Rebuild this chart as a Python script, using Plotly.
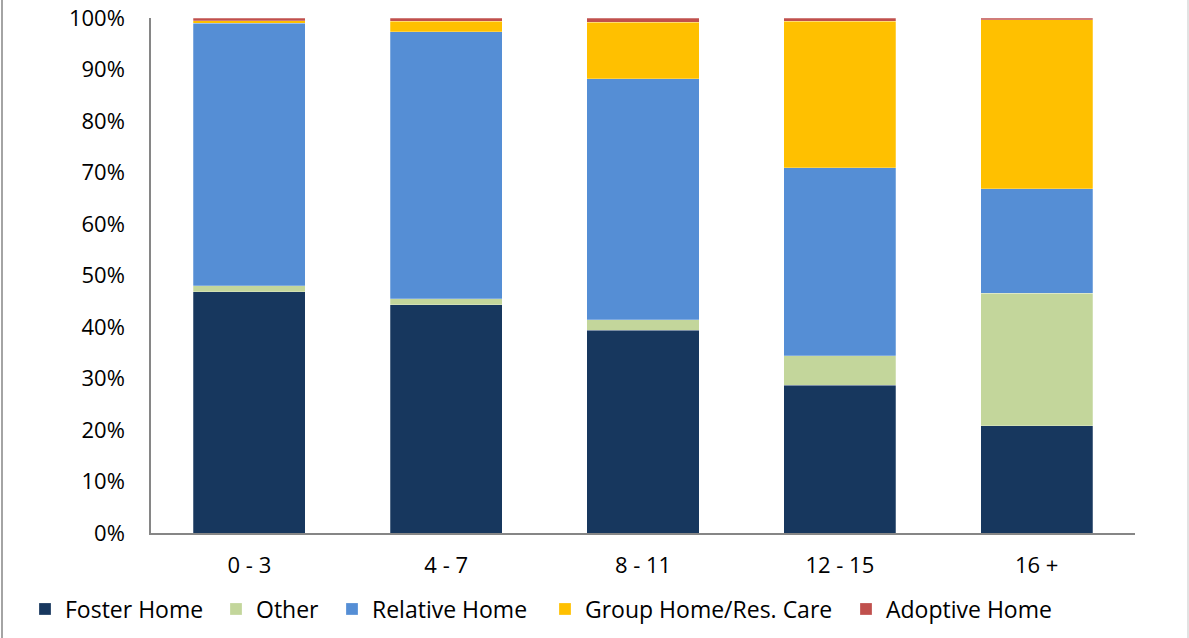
import plotly.graph_objects as go

categories = ["0 - 3", "4 - 7", "8 - 11", "12 - 15", "16 +"]
foster = [46.8, 44.3, 39.4, 28.7, 20.8]
other = [1.2, 1.2, 2.0, 5.7, 25.8]
relative = [51.0, 51.8, 46.8, 36.5, 20.2]
group = [0.5, 2.1, 11.0, 28.5, 32.9]
adoptive = [0.5, 0.6, 0.8, 0.6, 0.3]

series = [
    ("Foster Home", foster, "#17375E"),
    ("Other", other, "#C3D69B"),
    ("Relative Home", relative, "#558ED5"),
    ("Group Home/Res. Care", group, "#FFC000"),
    ("Adoptive Home", adoptive, "#C0504D"),
]
# screen x of each legend swatch in the reference
legend_swatch_x = [45, 236, 352, 565, 866]

W, H = 1189, 638
L, R, T, B = 151, 54, 18, 105
pw = W - L - R
ph = H - T - B

fig = go.Figure()
legend_layouts = {}
for i, (name, vals, col) in enumerate(series):
    lg = "legend" if i == 0 else f"legend{i + 1}"
    fig.add_trace(go.Bar(
        x=categories, y=[v / 100 for v in vals], name=name, legend=lg,
        marker=dict(color=col, line=dict(color="rgba(255,255,255,0.5)", width=0.5)),
    ))
    legend_layouts[lg] = dict(
        orientation="h",
        x=(legend_swatch_x[i] - 20 - L) / pw, xanchor="left",
        y=-76 / ph, yanchor="middle",
        font=dict(family="Open Sans", size=23, color="#000000"),
        itemclick=False, bgcolor="rgba(0,0,0,0)",
    )

fig.update_layout(
    barmode="stack",
    bargap=0.43,
    width=W, height=H,
    margin=dict(l=L, r=R, t=T, b=B, autoexpand=False),
    paper_bgcolor="white",
    plot_bgcolor="white",
    font=dict(family="Open Sans", size=22, color="#000000"),
    showlegend=True,
    xaxis=dict(
        showline=True, linecolor="#868686", linewidth=1.5,
        ticks="", ticklabelstandoff=12,
        tickfont=dict(family="Open Sans", size=22, color="#000000"),
    ),
    yaxis=dict(
        range=[0, 1], tickvals=[i / 10 for i in range(11)],
        tickformat=".0%", showgrid=False, zeroline=False,
        showline=True, linecolor="#868686", linewidth=1.5,
        ticks="", ticklabelstandoff=20, ticklabeloverflow="allow",
        tickfont=dict(family="Open Sans", size=22, color="#000000"),
    ),
    shapes=[
        dict(type="line", xref="paper", yref="paper",
             x0=(2 - L) / pw, x1=(2 - L) / pw, y0=-2, y1=2,
             line=dict(color="#868686", width=1.5)),
        dict(type="line", xref="paper", yref="paper",
             x0=(1188 - L) / pw, x1=(1188 - L) / pw, y0=-2, y1=2,
             line=dict(color="#d9d9d9", width=1.5)),
    ],
    **legend_layouts,
)

fig.write_html("out.html", config={"displayModeBar": False},
               post_script="document.body.style.margin='0';")
